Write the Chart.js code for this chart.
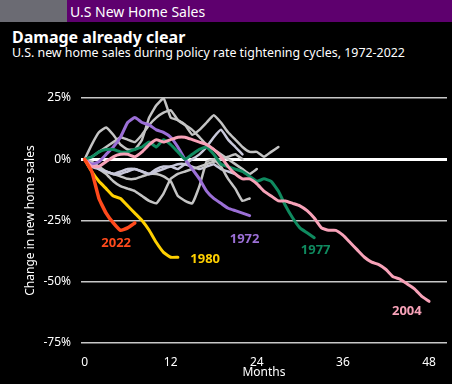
<!DOCTYPE html>
<html><head><meta charset="utf-8">
<script src="https://cdn.jsdelivr.net/npm/chart.js@4.4.1/dist/chart.umd.min.js"></script>
<style>
html,body{margin:0;padding:0;background:#000;width:452px;height:384px;overflow:hidden;font-family:"Liberation Sans",Arial,sans-serif;}
#hdr{position:absolute;left:0;top:0;width:452px;height:22px;background:#5e006e;}
#hdrg{position:absolute;left:0;top:0;width:67px;height:22px;background:#6b6b73;}
#hdrt{position:absolute;left:70px;top:2px;color:#fff;font-size:14px;font-family:"Noto Sans",sans-serif;}
#title{position:absolute;left:12px;top:26px;color:#fff;font-weight:bold;font-size:16px;font-family:"Noto Sans",sans-serif;}
#sub{position:absolute;left:12px;top:44px;color:#fff;font-size:12.4px;font-family:"Noto Sans",sans-serif;}
#wrap{position:absolute;left:0;top:60px;width:452px;height:324px;}
</style></head>
<body>
<div id="hdr"></div><div id="hdrg"></div><div id="hdrt">U.S New Home Sales</div>
<div id="title">Damage already clear</div>
<div id="sub">U.S. new home sales during policy rate tightening cycles, 1972-2022</div>
<div id="wrap"><canvas id="c"></canvas></div>
<script>
// Months since tightening start, % change in new home sales
const s2022 = [0,-5,-16,-22,-26,-29,-28,-26];
const s1980 = [0,-5,-9,-12,-15,-16,-19,-22,-25,-29,-34,-38,-40,-40];
const s1972 = [0,-2,-1,2,5,9,15,17,15,14,12,11,9,5,0,-4,-8,-13,-16,-18,-20,-21,-22,-23];
const s1977 = [0,1,3,4,4,3,3,4,5,7,5,8,6,3,0,2,4,5,2,-2,-3,-4,-5,-7,-9,-8,-9,-13,-19,-24,-28,-30,-32];
const s2004 = [0,-3,-3,-1,1,2,2,1,3,6,8,7,8,9,9,8,7,6,4,1,-3,-6,-8,-8,-10,-13,-15,-17,-17,-18,-19,-21,-24,-28,-29,-29,-31,-34,-37,-40,-42,-43,-45,-48,-49,-51,-53,-56,-58];
const g1 = [0,6,11,13,10,6,4,4,8,17,22,25,17,16,14,10,12,15,18,15,11,8,5,3,3,1,3,5];
const g2 = [0,1,3,5,7,9,8,7,10,14,17,19,20,16,14,12,9,6,4,2,0,-2,-4,-6,-4];
const g3 = [0,-2,-4,-5,-6,-6,-5,-4,-5,-6,-5,-4,-3,-4,-2,0,2,5,9,12,8,5,2];
const g4 = [0,-2,-4,-6,-9,-11,-12,-13,-15,-17,-18,-14,-8,-6,-5,-4,-3,-2,-1,0,1,2,0];
const g5 = [0,-1,-3,-5,-6,-7,-8,-8,-7,-6,-6,-7,-9,-15,-17,-18,-11,-1,0,-3,-8,-12,-17,-16];
const g6 = [0,-3,-4,-5,-6,-5,-4,-4,-5,-6,-4,-3,-3,-2,-2,-3,-4,-3,-2,-4,-5,-6];
const xTicks = [0,12,24,36,48];
const yTicks = [25,0,-25,-50,-75];
const seriesLabels = [
  {text:'2022', color:'#ff4a1c', x:4.4, y:-34.5},
  {text:'1980', color:'#ffd000', x:16.8, y:-41},
  {text:'1972', color:'#9b6fd6', x:22.3, y:-32.5},
  {text:'1977', color:'#0f8a5f', x:32.2, y:-37},
  {text:'2004', color:'#f7a2b8', x:44.9, y:-62}
];

const toXY = a => a.map((v,i)=>({x:i,y:v}));
const col = (d,c,w)=>({data:toXY(d),borderColor:c,borderWidth:w,pointRadius:0,tension:0.12,fill:false,borderCapStyle:'round',borderJoinStyle:'round'});

const labelPlugin = {
  id:'seriesLabels',
  afterDatasetsDraw(chart){
    const {ctx,scales:{x,y}} = chart;
    ctx.save();
    ctx.font = 'bold 13px "Noto Sans", sans-serif';
    ctx.textAlign='center'; ctx.textBaseline='middle';
    seriesLabels.forEach(l=>{ctx.fillStyle=l.color;ctx.fillText(l.text,x.getPixelForValue(l.x),y.getPixelForValue(l.y));});
    ctx.restore();
  }
};

new Chart(document.getElementById('c'),{
  type:'line',
  data:{datasets:[
    col(s2022,'#ff4a1c',3.5),
    col(s1980,'#ffd000',3),
    col(s2004,'#f7a2b8',3),
    col(s1977,'#0f8a5f',3),
    col(s1972,'#9b6fd6',3),
    col(g1,'#c4c4c4',2.5),
    col(g2,'#c4c4c4',2.5),
    col(g3,'#c8c8da',2.5),
    col(g4,'#c4c4c4',2.5),
    col(g5,'#c4c4c4',2.5),
    col(g6,'#c8c8da',2.5)
  ]},
  options:{
    responsive:true,maintainAspectRatio:false,animation:false,
    layout:{padding:{top:38,left:0,right:5,bottom:0}},
    plugins:{legend:{display:false},tooltip:{enabled:false}},
    scales:{
      x:{type:'linear',min:-0.5,max:50.5,
        afterBuildTicks:s=>{s.ticks=xTicks.map(v=>({value:v}));},
        afterFit:s=>{s.height=41;},
        grid:{display:false},border:{display:false},
        ticks:{color:'#fff',font:{size:12,family:'"Noto Sans", sans-serif'},padding:4,maxRotation:0},
        title:{display:true,text:'Months',color:'#fff',font:{size:12,family:'"Noto Sans", sans-serif'},padding:{top:0,bottom:4}}
      },
      y:{min:-75,max:25,
        afterBuildTicks:s=>{s.ticks=yTicks.map(v=>({value:v}));},
        afterFit:s=>{s.width=81;},
        grid:{color:c=>c.tick&&c.tick.value===0?'#ffffff':'#c8c8c8',lineWidth:c=>c.tick&&c.tick.value===0?3:1.5,drawTicks:false},
        border:{display:false},
        ticks:{color:'#fff',font:{size:12,family:'"Noto Sans", sans-serif'},padding:10,callback:v=>v+'%'},
        title:{display:true,text:'Change in new home sales',color:'#fff',font:{size:12,family:'"Noto Sans", sans-serif'},padding:{top:23,bottom:0}}
      }
    }
  },
  plugins:[labelPlugin]
});
</script>
</body></html>
